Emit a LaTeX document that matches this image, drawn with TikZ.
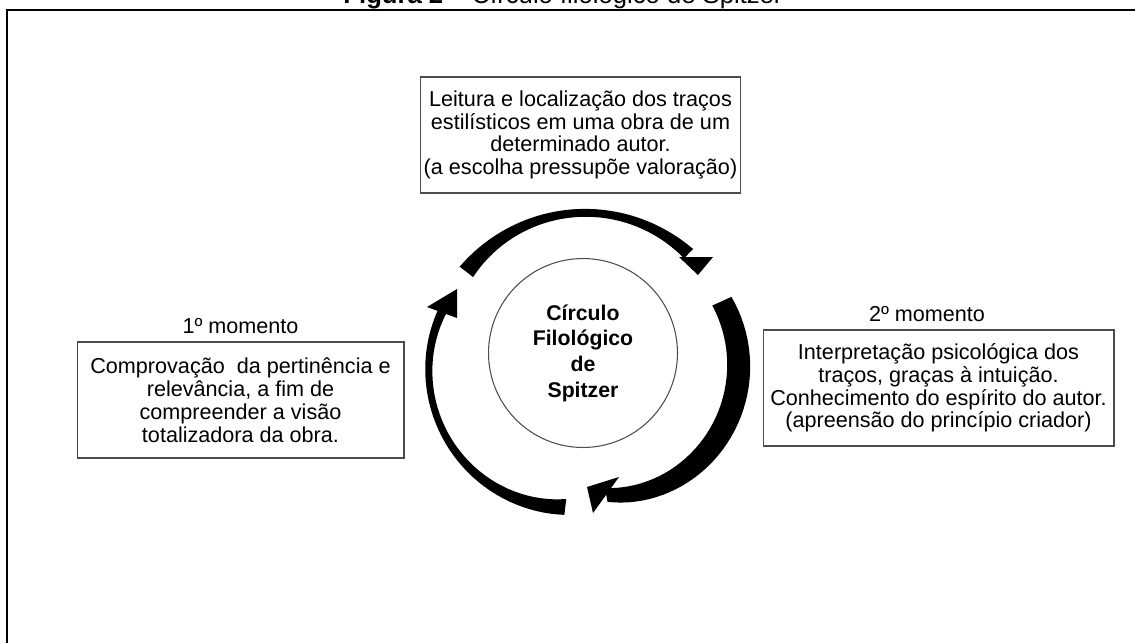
\documentclass[tikz,border=0pt]{standalone}
\usepackage{fontspec}
\setmainfont{Liberation Sans}
\usetikzlibrary{positioning}
\newcommand{\boxfont}{\fontsize{12.3}{13}\selectfont}
% tapered band round the ring: angles, radius (start, end, bulge), width (start, end, bulge)
\newcommand{\ringarrow}[8]{%
  \fill plot[domain=0:1, samples=40] ({bend(\x,#1,#2,0)}:{bend(\x,#3,#4,#5)+bend(\x,#6,#7,#8)/2})
     -- plot[domain=0:1, samples=40] ({bend(1-\x,#1,#2,0)}:{bend(1-\x,#3,#4,#5)-bend(1-\x,#6,#7,#8)/2})
     -- cycle;}

\begin{document}
\begin{tikzpicture}[x=0.02cm, y=-0.02cm,
    declare function={bend(\tq,\pa,\pb,\pc)=(\pa)+((\pb)-(\pa))*\tq+4*(\pc)*\tq*(1-\tq);},
    textbox/.style={draw=black!70, line width=0.6pt, align=center, inner sep=2pt, font=\boxfont},
    momento/.style={font=\boxfont}]
    \useasboundingbox (0,0) rectangle (1135,642);
    \clip (0,0) rectangle (1135,642);
    \fill[white] (0,0) rectangle (1135,642);

    % frame and caption (cut by the page edge)
    \draw[line width=1.15pt] (7,10) rectangle (1160,670);
    \node[anchor=base, font=\fontsize{14.6}{16}\selectfont, inner sep=0pt] (title) at (563,4) {\textbf{Figura 2} – Círculo filológico de Spitzer};

    \node[draw=black!70, line width=0.6pt, circle, minimum size=3.78cm, align=center,
          font=\fontsize{12.1}{14.6}\selectfont\bfseries] (circ) at (583,353) {Círculo\\Filológico\\de\\Spitzer};

    \node[textbox, minimum width=6.3cm, minimum height=2.32cm] (leitura) at (580.5,135)
        {Leitura e localização dos traços\\estilísticos em uma obra de um\\determinado autor.\\(a escolha pressupõe valoração)};
    \node[textbox, minimum width=6.54cm, minimum height=2.32cm] (comprov) at (240.5,400)
        {Comprovação~ da pertinência e\\relevância, a fim de\\compreender a visão\\totalizadora da obra.};
    \node[textbox, minimum width=7.02cm, minimum height=2.32cm] (interp) at (938.5,388)
        {Interpretação psicológica dos\\traços, graças à intuição.\\Conhecimento do espírito do autor.\\(apreensão do princípio criador)};

    \node[momento, above=1pt of comprov] (mom1) {1º momento};
    \node[momento, above=1pt of interp, xshift=-0.23cm] (mom2) {2º momento};

    % the three arrows of the cycle
    \begin{scope}[shift={(583,363)}]
        \ringarrow{-142}{-46}{148}{152}{0}{17}{13}{-7}
        \fill (96,-106) -- (115,-88) -- (130,-106) -- cycle;
        \ringarrow{-24}{80}{152}{134}{11}{21}{14}{5}
        \fill (36,114) -- (4,124) -- (10,150) -- cycle;
        \ringarrow{97}{200}{145}{150}{8}{16}{9}{-5}
        \fill (-126,-45) -- (-126,-74) -- (-156,-56) -- cycle;
    \end{scope}
\end{tikzpicture}
\end{document}
